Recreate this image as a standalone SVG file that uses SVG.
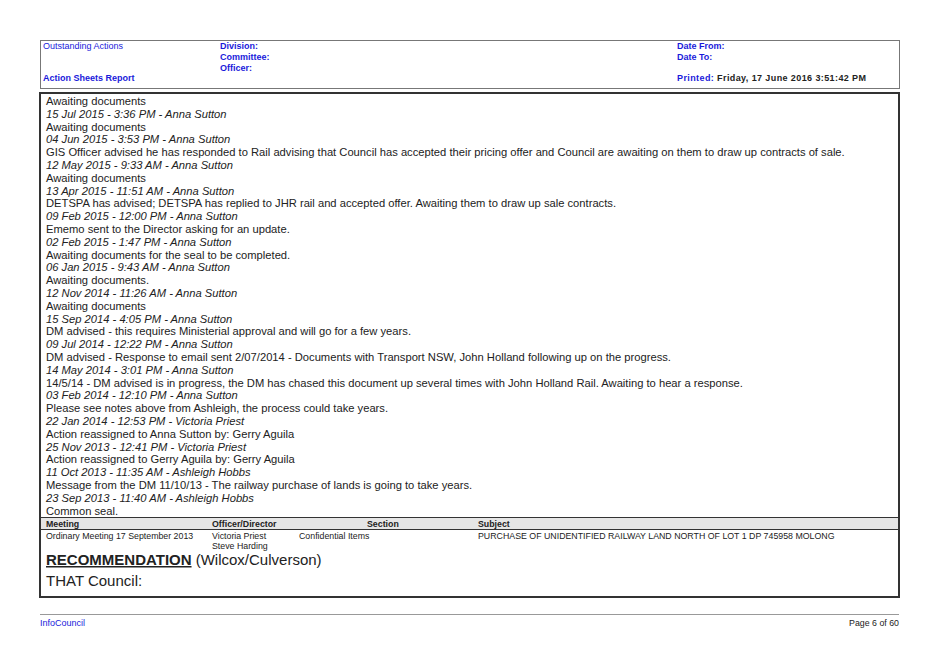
<svg xmlns="http://www.w3.org/2000/svg" width="939" height="664" viewBox="0 0 939 664">
<style>
.h{font-family:"Liberation Sans",Arial,sans-serif;font-size:9px;fill:#1a1adb}
.hb{font-weight:bold}
.k{fill:#222}
.b{font-family:"Liberation Sans",Arial,sans-serif;font-size:11.2px;fill:#222}
.i{font-style:italic}
.t{font-family:"Liberation Sans",Arial,sans-serif;font-size:8.8px;fill:#222}
.r{font-family:"Liberation Sans",Arial,sans-serif;font-size:15px;fill:#222}
</style>
<rect width="939" height="664" fill="#fff"/>
<g id="header">
<rect x="40.5" y="40.5" width="859" height="48" fill="none" stroke="#777"/>
<text class="h" x="43" y="49">Outstanding Actions</text>
<text class="h hb" x="43" y="81">Action Sheets Report</text>
<text class="h hb" x="220" y="49">Division:</text>
<text class="h hb" x="220" y="60">Committee:</text>
<text class="h hb" x="220" y="71">Officer:</text>
<text class="h hb" x="677" y="49">Date From:</text>
<text class="h hb" x="677" y="60">Date To:</text>
<text class="h hb" x="677" y="81" textLength="189">Printed: <tspan class="k">Friday, 17 June 2016   3:51:42 PM</tspan></text>
</g>
<g id="body">
<rect x="40" y="93" width="859" height="504" fill="none" stroke="#333" stroke-width="2"/>
<g class="b">
<text x="46" y="105">Awaiting documents</text>
<text x="46" y="118" class="i">15 Jul 2015 - 3:36 PM - Anna Sutton</text>
<text x="46" y="130.6">Awaiting documents</text>
<text x="46" y="143.4" class="i">04 Jun 2015 - 3:53 PM - Anna Sutton</text>
<text x="46" y="156.2">GIS Officer advised he has responded to Rail advising that Council has accepted their pricing offer and Council are awaiting on them to draw up contracts of sale.</text>
<text x="46" y="169" class="i">12 May 2015 - 9:33 AM - Anna Sutton</text>
<text x="46" y="181.8">Awaiting documents</text>
<text x="46" y="194.6" class="i">13 Apr 2015 - 11:51 AM - Anna Sutton</text>
<text x="46" y="207.4">DETSPA  has advised; DETSPA has replied to JHR rail and accepted offer. Awaiting them to draw up sale contracts.</text>
<text x="46" y="220.2" class="i">09 Feb 2015 - 12:00 PM - Anna Sutton</text>
<text x="46" y="233">Ememo sent to the Director asking for an update.</text>
<text x="46" y="245.8" class="i">02 Feb 2015 - 1:47 PM - Anna Sutton</text>
<text x="46" y="258.6">Awaiting documents for the seal to be completed.</text>
<text x="46" y="271.4" class="i">06 Jan 2015 - 9:43 AM - Anna Sutton</text>
<text x="46" y="284.2">Awaiting documents.</text>
<text x="46" y="297" class="i">12 Nov 2014 - 11:26 AM - Anna Sutton</text>
<text x="46" y="309.8">Awaiting documents</text>
<text x="46" y="322.6" class="i">15 Sep 2014 - 4:05 PM - Anna Sutton</text>
<text x="46" y="335.4">DM advised - this requires Ministerial approval and will go for a few years.</text>
<text x="46" y="348.2" class="i">09 Jul 2014 - 12:22 PM - Anna Sutton</text>
<text x="46" y="361">DM advised - Response to email sent 2/07/2014 - Documents with Transport NSW, John Holland following up on the progress.</text>
<text x="46" y="373.8" class="i">14 May 2014 - 3:01 PM - Anna Sutton</text>
<text x="46" y="386.6">14/5/14 - DM advised is in progress, the DM has chased this document up several times with John Holland Rail.  Awaiting to hear a response.</text>
<text x="46" y="399.4" class="i">03 Feb 2014 - 12:10 PM - Anna Sutton</text>
<text x="46" y="412.2">Please see notes above from Ashleigh, the process could take years.</text>
<text x="46" y="425" class="i">22 Jan 2014 - 12:53 PM - Victoria Priest</text>
<text x="46" y="437.8">Action reassigned to Anna Sutton by: Gerry Aguila</text>
<text x="46" y="450.6" class="i">25 Nov 2013 - 12:41 PM - Victoria Priest</text>
<text x="46" y="463.4">Action reassigned to Gerry Aguila by: Gerry Aguila</text>
<text x="46" y="476.2" class="i">11 Oct 2013 - 11:35 AM - Ashleigh Hobbs</text>
<text x="46" y="489">Message from the DM 11/10/13 - The railway purchase of lands is going to take years.</text>
<text x="46" y="501.8" class="i">23 Sep 2013 - 11:40 AM - Ashleigh Hobbs</text>
<text x="46" y="514.6">Common seal.</text>
</g>
<g id="table">
<rect x="41" y="517" width="857" height="12" fill="#e6e6e6"/>
<line x1="41" y1="517.5" x2="898" y2="517.5" stroke="#333"/>
<line x1="41" y1="529.5" x2="898" y2="529.5" stroke="#333"/>
<text class="t hb" x="46" y="527">Meeting</text>
<text class="t hb" x="212" y="527">Officer/Director</text>
<text class="t hb" x="367" y="527">Section</text>
<text class="t hb" x="478" y="527">Subject</text>
<text class="t" x="46" y="538.5">Ordinary Meeting 17 September 2013</text>
<text class="t" x="212" y="538.5">Victoria Priest</text>
<text class="t" x="212" y="548.5">Steve Harding</text>
<text class="t" x="299" y="538.5">Confidential Items</text>
<text class="t" x="478" y="538.5">PURCHASE OF UNIDENTIFIED RAILWAY LAND NORTH OF LOT 1 DP 745958 MOLONG</text>
<text class="r" x="46" y="565"><tspan font-weight="bold" text-decoration="underline">RECOMMENDATION</tspan> (Wilcox/Culverson)</text>
<text class="r" x="46" y="586">THAT Council:</text>
</g>
</g>
<g id="footer">
<line x1="40" y1="614.5" x2="899" y2="614.5" stroke="#999"/>
<text class="h" x="40" y="626">InfoCouncil</text>
<text class="t" x="899" y="626" text-anchor="end">Page 6 of 60</text>
</g>
</svg>
